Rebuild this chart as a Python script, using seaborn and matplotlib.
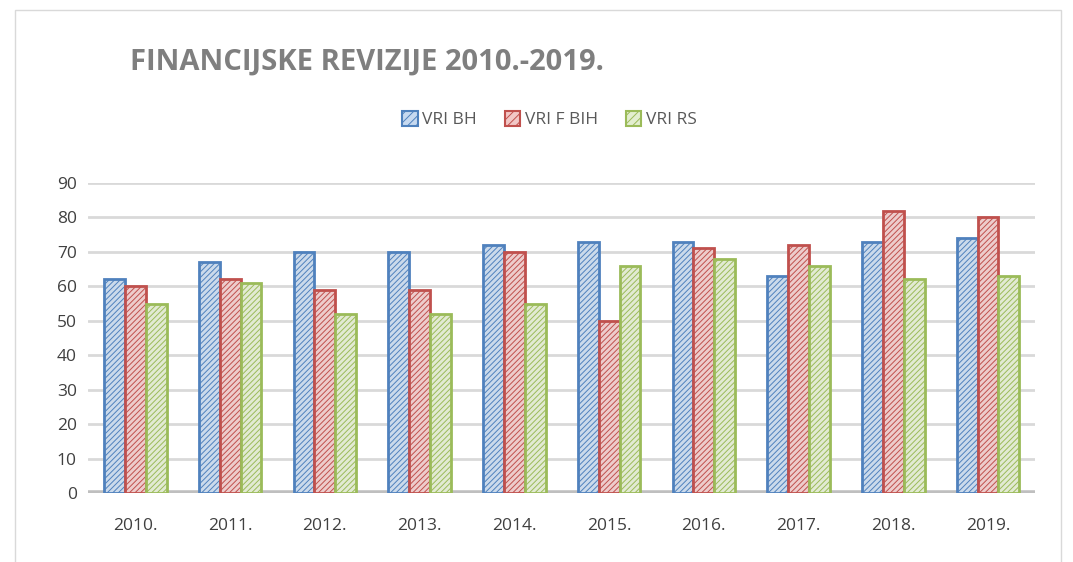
# Financial audits chart 2010-2019
import pandas as pd
import matplotlib.pyplot as plt
import seaborn as sns
from matplotlib.patches import Rectangle, Patch

# Data
years = ['2010.', '2011.', '2012.', '2013.', '2014.', '2015.', '2016.', '2017.', '2018.', '2019.']
vri_bh = [62, 67, 70, 70, 72, 73, 73, 63, 73, 74]
vri_fbih = [60, 62, 59, 59, 70, 50, 71, 72, 82, 80]
vri_rs = [55, 61, 52, 52, 55, 66, 68, 66, 62, 63]
series = ['VRI BH', 'VRI F BIH', 'VRI RS']

df = pd.DataFrame({'Godina': years, 'VRI BH': vri_bh, 'VRI F BIH': vri_fbih, 'VRI RS': vri_rs})
long_df = df.melt(id_vars='Godina', var_name='Serija', value_name='Broj')

edge_colors = ['#4f81bd', '#c0504d', '#9bbb59']
fill_colors = ['#c6d9f0', '#f2c7c6', '#e3eecf']

sns.set_style('white')
plt.rcParams['font.family'] = ['Open Sans', 'DejaVu Sans']
plt.rcParams['hatch.linewidth'] = 0.7

fig = plt.figure(figsize=(10.73, 5.62), dpi=100)
ax = fig.add_axes([0.082, 0.1228, 0.883, 0.5516])

sns.barplot(data=long_df, x='Godina', y='Broj', hue='Serija', hue_order=series,
            palette=fill_colors, width=0.66, ax=ax, legend=False, zorder=3)

# hatch + edge color per series
for container, ec in zip(ax.containers, edge_colors):
    for bar in container:
        bar.set_edgecolor(ec)
        bar.set_linewidth(2)
        bar.set_hatch('//////')

ax.set_ylim(0, 90)
ax.set_yticks(range(0, 91, 10))
ax.yaxis.grid(True, color='#d9d9d9', linewidth=2, zorder=0)
ax.set_axisbelow(True)
ax.axhline(0, color='#bfbfbf', linewidth=4, zorder=1)
for s in ax.spines.values():
    s.set_visible(False)
ax.set_xlabel('')
ax.set_ylabel('')
ax.tick_params(axis='both', length=0, labelsize=12.5, colors='#404040')
ax.tick_params(axis='x', pad=18)
ax.tick_params(axis='y', pad=8)

# legend
handles = [Patch(facecolor=fc, edgecolor=ec, hatch='////', linewidth=1.5)
           for fc, ec in zip(fill_colors, edge_colors)]
fig.legend(handles, series, loc='center', bbox_to_anchor=(0.512, 0.787), ncol=3,
           frameon=False, fontsize=12.5, handlelength=0.9, handleheight=0.9,
           handletextpad=0.25, columnspacing=1.6, labelcolor='#595959')

# title
fig.text(0.121, 0.89, 'FINANCIJSKE REVIZIJE 2010.-2019.', fontsize=21, fontweight='bold',
         color='#7f7f7f', va='center', ha='left')

# chart border
fig.add_artist(Rectangle((0.014, -0.05), 0.975, 1.032, transform=fig.transFigure,
                         fill=False, edgecolor='#d9d9d9', linewidth=1))

plt.savefig('out.png', dpi=100)
